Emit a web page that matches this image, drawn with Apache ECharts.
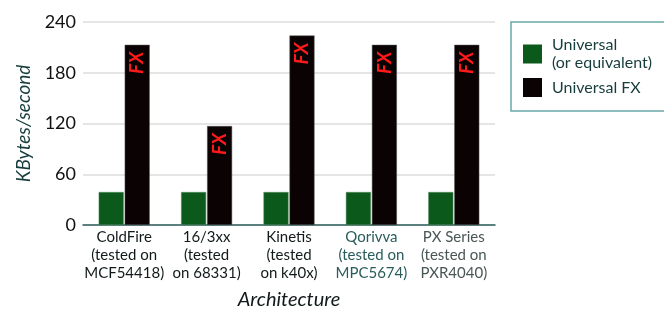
<!DOCTYPE html>
<html>
<head>
<meta charset="utf-8">
<script src="https://cdn.jsdelivr.net/npm/echarts@6/dist/echarts.min.js"></script>
<style>
  html, body { margin: 0; padding: 0; background: #fff; }
  #chart { width: 664px; height: 310px; }
</style>
</head>
<body>
<div id="chart"></div>
<script>
// categories (multi-line labels)
const categories = [
  'ColdFire\n(tested on\nMCF54418)',
  '16/3xx\n(tested\non 68331)',
  'Kinetis\n(tested\non k40x)',
  'Qorivva\n(tested on\nMPC5674)',
  'PX Series\n(tested on\nPXR4040)'
]
const labelColors = ['#111a1a', '#111a1a', '#111a1a', '#2a5c5c', '#4a5555']
const universal = [39, 39, 39, 39, 39]      // Universal (or equivalent)
const universalFx = [213, 117, 224, 213, 213] // Universal FX
const yTicks = { min: 0, max: 240, interval: 60 }

const font = 'Lato, "Open Sans", sans-serif'

const chart = echarts.init(document.getElementById('chart'))

chart.setOption({
  animation: false,
  backgroundColor: '#fff',
  textStyle: { fontFamily: font },
  legend: {
    orient: 'vertical',
    left: 511,
    top: 22,
    padding: [14, 12, 14, 12],
    borderColor: '#6aa8a8',
    borderWidth: 1.5,
    icon: 'rect',
    itemWidth: 19,
    itemHeight: 19,
    itemGap: 6,
    itemStyle: { borderWidth: 0 },
    textStyle: { fontFamily: font, fontSize: 16, color: '#163c3c', lineHeight: 18, padding: [0, 8, 0, 5] },
    formatter: name => name.replace(' (', '\n('),
    data: ['Universal (or equivalent)', 'Universal FX']
  },
  grid: { left: 83, right: 169, top: 22, bottom: 85, outerBoundsMode: 'none' },
  xAxis: {
    type: 'category',
    data: categories.map((c, i) => ({ value: c, textStyle: { color: labelColors[i] } })),
    name: 'Architecture',
    nameLocation: 'middle',
    nameGap: 65,
    nameTextStyle: { fontFamily: font, fontSize: 20, fontStyle: 'italic', color: '#111a1a' },
    axisLine: { lineStyle: { color: '#2f5f5f', width: 1.5 } },
    axisTick: { show: false },
    axisLabel: { fontFamily: font, fontSize: 15, lineHeight: 18, margin: 3, interval: 0 }
  },
  yAxis: {
    type: 'value',
    min: yTicks.min,
    max: yTicks.max,
    interval: yTicks.interval,
    name: 'KBytes/second',
    nameLocation: 'middle',
    nameGap: 47,
    nameTextStyle: { fontFamily: font, fontSize: 19, fontStyle: 'italic', color: '#163c3c' },
    axisLine: { show: false },
    axisTick: { show: false },
    axisLabel: { fontFamily: font, fontSize: 18, color: '#111111', margin: 7 },
    splitLine: { lineStyle: { color: '#dcdcdc', width: 1.5 } }
  },
  series: [
    {
      name: 'Universal (or equivalent)',
      type: 'bar',
      data: universal,
      barWidth: 25,
      barGap: '4%',
      itemStyle: { color: '#0c5a1b', borderColor: '#4f8a5a', borderWidth: 0.5 }
    },
    {
      name: 'Universal FX',
      type: 'bar',
      data: universalFx,
      barWidth: 25,
      barGap: '4%',
      itemStyle: { color: '#0a0203', borderColor: '#555', borderWidth: 0.5 },
      label: {
        show: true,
        position: 'insideTop',
        distance: 7,
        rotate: 90,
        align: 'right',
        verticalAlign: 'middle',
        formatter: 'FX',
        color: '#ff1a1a',
        fontFamily: font,
        fontSize: 19,
        fontWeight: 'bold',
        fontStyle: 'italic'
      }
    }
  ]
})
</script>
</body>
</html>
